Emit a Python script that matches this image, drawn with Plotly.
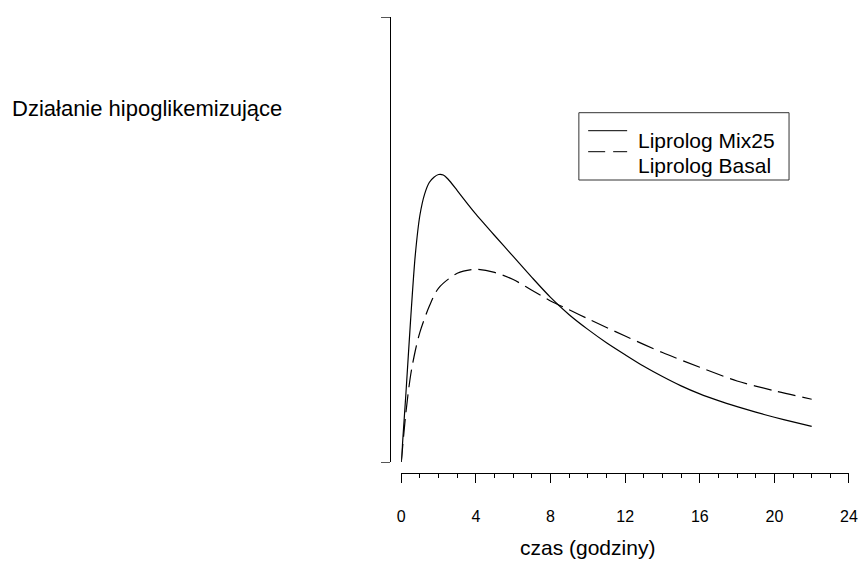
import plotly.graph_objects as go

# ---- data ----
hours_mix = [0, 0.25, 0.5, 0.75, 1.0, 1.25, 1.5, 1.75, 2.0, 2.25, 2.5, 3, 3.5, 4, 5, 6, 7, 8, 9, 10, 11, 12, 13, 14, 15, 16, 17, 18, 19, 20, 21, 22]
mix25 = [0, 15.5, 32, 46.5, 55.5, 60.2, 62.8, 64.0, 64.6, 64.5, 63.6, 61.0, 58.3, 55.7, 50.9, 46.2, 41.5, 37.0, 33.1, 29.8, 26.8, 24.1, 21.5, 19.2, 17.1, 15.3, 13.8, 12.45, 11.2, 10.05, 9.0, 8.0]

hours_basal = [0, 0.25, 0.5, 0.75, 1.0, 1.5, 2, 3, 4, 5, 6, 7, 8, 9, 10, 12, 14, 16, 18, 20, 22]
basal = [0, 11.2, 19.5, 25.0, 29.2, 35.0, 39.1, 42.4, 43.3, 42.6, 41.0, 38.6, 36.2, 34.2, 32.2, 28.3, 24.6, 21.3, 18.2, 16.0, 14.1]

series_names = ["Liprolog Mix25", "Liprolog Basal"]
x_title = "czas (godziny)"
y_title = "Działanie hipoglikemizujące"
x_ticks = [0, 4, 8, 12, 16, 20, 24]

FONT = "Liberation Sans, Arial, sans-serif"

# pixel -> paper helpers (plot area: x 380..849.3, y 17..473)
L, R, T, B = 380.0, 849.3, 17.0, 473.0
def px(x):
    return (x - L) / (R - L)
def py(y):
    return (B - y) / (B - T)

fig = go.Figure()
fig.add_trace(go.Scatter(x=hours_mix, y=mix25, mode="lines", name=series_names[0],
                         line=dict(color="black", width=1.2, shape="spline", smoothing=0.8),
                         showlegend=False))
fig.add_trace(go.Scatter(x=hours_basal, y=basal, mode="lines", name=series_names[1],
                         line=dict(color="black", width=1.2, shape="spline", smoothing=0.8,
                                   dash="18px,7px"),
                         showlegend=False))

shapes = [
    # legend box
    dict(type="rect", xref="paper", yref="paper", x0=px(579), x1=px(789.3), y0=py(180), y1=py(112.7),
         line=dict(color="#333", width=1), fillcolor="white", layer="above"),
    dict(type="line", xref="paper", yref="paper", x0=px(588.3), x1=px(627.3), y0=py(130.7), y1=py(130.7),
         line=dict(color="black", width=1)),
    dict(type="line", xref="paper", yref="paper", x0=px(588.3), x1=px(627.3), y0=py(151.7), y1=py(151.7),
         line=dict(color="black", width=1, dash="17px,8px")),
]

annotations = [
    dict(text=series_names[0], xref="paper", yref="paper", x=px(636), y=py(140), xanchor="left",
         yanchor="middle", showarrow=False, font=dict(family=FONT, size=21, color="black")),
    dict(text=series_names[1], xref="paper", yref="paper", x=px(636), y=py(166), xanchor="left",
         yanchor="middle", showarrow=False, font=dict(family=FONT, size=21, color="black")),
    dict(text=y_title, xref="paper", yref="paper", x=px(10), y=py(108), xanchor="left",
         yanchor="middle", showarrow=False, font=dict(family=FONT, size=22, color="black")),
    dict(text=x_title, xref="paper", yref="paper", x=px(588), y=py(547), xanchor="center",
         yanchor="middle", showarrow=False, font=dict(family=FONT, size=21, color="black")),
]

fig.update_layout(
    width=860, height=562,
    margin=dict(l=L, r=860 - R, t=T, b=562 - B, pad=0),
    paper_bgcolor="white", plot_bgcolor="white",
    font=dict(family=FONT, color="black"),
    shapes=shapes, annotations=annotations,
    xaxis=dict(range=[0, 24], domain=[px(401.3), 1], anchor="free", position=0,
               showgrid=False, zeroline=False, showline=True, linecolor="black", linewidth=1,
               ticks="outside", ticklen=9, tickwidth=1, tickcolor="black",
               tickvals=x_ticks, ticktext=[str(v) for v in x_ticks],
               tickfont=dict(family=FONT, size=16, color="black"), ticklabelstandoff=20,
               minor=dict(dtick=1, tick0=0, ticks="outside", ticklen=4, tickwidth=1, tickcolor="black",
                          showgrid=False),
               automargin=False, fixedrange=True),
    yaxis=dict(range=[0, 100], domain=[(B - 462) / (B - T), 1], anchor="free", position=px(390),
               showgrid=False, zeroline=False, showline=True, linecolor="black", linewidth=1.3,
               ticks="outside", ticklen=9, tickwidth=1, tickcolor="#555",
               tickvals=[0, 100], showticklabels=False, automargin=False, fixedrange=True),
)

fig.write_html("out.html")
